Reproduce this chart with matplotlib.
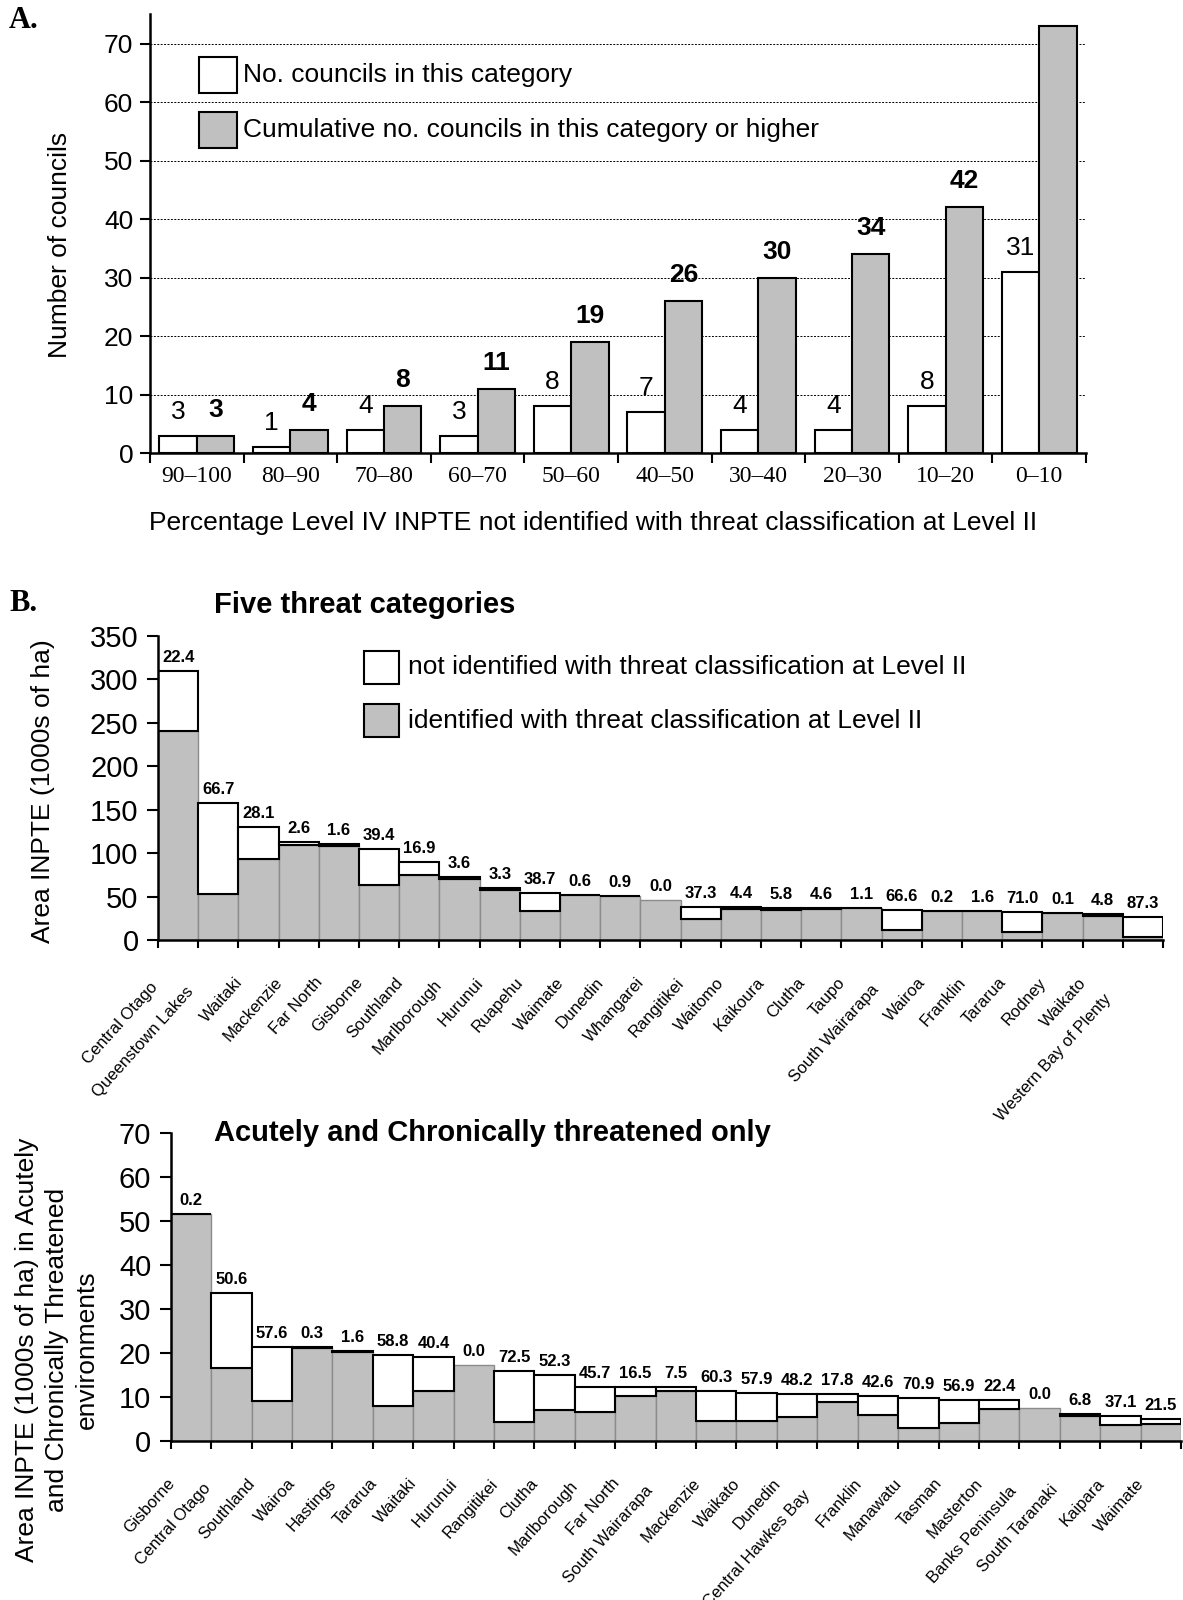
# Figura: conselhos x percentagem INPTE e areas por conselho (paineis A e B)
import numpy as np
import matplotlib
matplotlib.use("Agg")
import matplotlib.pyplot as plt
from matplotlib.patches import Rectangle
from matplotlib import font_manager

plt.rcParams['font.family'] = ['Liberation Sans', 'DejaVu Sans']

# ---- dados painel A
categorias = ['90–100', '80–90', '70–80', '60–70', '50–60',
              '40–50', '30–40', '20–30', '10–20', '0–10']
n_conselhos = [3, 1, 4, 3, 8, 7, 4, 4, 8, 31]
n_acumulado = [3, 4, 8, 11, 19, 26, 30, 34, 42, 73]

# ---- dados painel B (cinco categorias)
nomes_b1 = ['Central Otago', 'Queenstown Lakes', 'Waitaki', 'Mackenzie', 'Far North',
            'Gisborne', 'Southland', 'Marlborough', 'Hurunui', 'Ruapehu', 'Waimate',
            'Dunedin', 'Whangarei', 'Rangitikei', 'Waitomo', 'Kaikoura', 'Clutha',
            'Taupo', 'South Wairarapa', 'Wairoa', 'Franklin', 'Tararua', 'Rodney',
            'Waikato', 'Western Bay of Plenty']
total_b1 = [310, 158, 130.4, 112.8, 110, 105, 89.5, 73, 59.5, 54.5, 51.8, 51, 45.5,
            38, 37.6, 37.2, 37, 36.8, 34, 33.8, 33.6, 32, 31.6, 29.4, 27]
pct_b1 = [22.4, 66.7, 28.1, 2.6, 1.6, 39.4, 16.9, 3.6, 3.3, 38.7, 0.6, 0.9, 0.0,
          37.3, 4.4, 5.8, 4.6, 1.1, 66.6, 0.2, 1.6, 71.0, 0.1, 4.8, 87.3]

# ---- dados painel B (ameacados agudos e cronicos)
nomes_b2 = ['Gisborne', 'Central Otago', 'Southland', 'Wairoa', 'Hastings', 'Tararua',
            'Waitaki', 'Hurunui', 'Rangitikei', 'Clutha', 'Marlborough', 'Far North',
            'South Wairarapa', 'Mackenzie', 'Waikato', 'Dunedin', 'Central Hawkes Bay',
            'Franklin', 'Manawatu', 'Tasman', 'Masterton', 'Banks Peninsula',
            'South Taranaki', 'Kaipara', 'Waimate']
total_b2 = [51.7, 33.7, 21.3, 21.3, 20.5, 19.5, 19.2, 17.3, 16.0, 15.0, 12.3, 12.2,
            12.2, 11.4, 10.8, 10.7, 10.7, 10.3, 9.85, 9.4, 9.4, 7.6, 6.2, 5.7, 4.9]
pct_b2 = [0.2, 50.6, 57.6, 0.3, 1.6, 58.8, 40.4, 0.0, 72.5, 52.3, 45.7, 16.5, 7.5,
          60.3, 57.9, 48.2, 17.8, 42.6, 70.9, 56.9, 22.4, 0.0, 6.8, 37.1, 21.5]

W, H = 1183, 1600
CINZA = '#c0c0c0'

nomes_fontes = {f.name for f in font_manager.fontManager.ttflist}
if 'Liberation Sans Narrow' in nomes_fontes:
    fonte_nomes, tam_nomes = ['Liberation Sans Narrow'], 14.5
else:
    fonte_nomes, tam_nomes = ['Liberation Sans', 'DejaVu Sans'], 12


def fx(x):
    return x / W


def fy(y):
    return 1 - y / H


def eixo(esq, dir, topo, base):
    return fig.add_axes([fx(esq), fy(base), (dir - esq) / W, (base - topo) / H])


def caixa(x0, x1, y0, y1, cor):
    fig.add_artist(Rectangle((fx(x0), fy(y1)), (x1 - x0) / W, (y1 - y0) / H,
                             transform=fig.transFigure, facecolor=cor,
                             edgecolor='black', lw=1.5))


def painel_b(ax, nomes, total, pct, ymax, passo):
    total = np.array(total)
    pct = np.array(pct)
    ident = total * (1 - pct / 100)
    nao = total - ident
    x = np.arange(len(nomes))
    ax.bar(x, ident, width=1, align='edge', color=CINZA, edgecolor='#8c8c8c', lw=1)
    m = pct > 0
    ax.bar(x[m], nao[m], width=1, bottom=ident[m], align='edge', color='white',
           edgecolor='black', lw=1.5)
    for i in range(len(nomes)):
        ax.annotate(f'{pct[i]:.1f}', (i + 0.5, total[i]), xytext=(0, 6),
                    textcoords='offset pixels', ha='center', va='bottom',
                    fontsize=12, fontweight='bold')
    ang = np.deg2rad(48)
    for i, nome in enumerate(nomes):
        extra = max(0, len(nome) - 10) * 2.0
        ax.annotate(nome, (i + 0.5, 0), xytext=(-19 - extra * np.cos(ang), -40 - extra * np.sin(ang)),
                    textcoords='offset pixels', rotation=48, rotation_mode='anchor',
                    ha='right', va='center', fontsize=tam_nomes, family=fonte_nomes,
                    annotation_clip=False)
    ax.set_xlim(0, len(nomes))
    ax.set_ylim(0, ymax)
    ax.set_yticks(np.arange(0, ymax + 1, passo))
    ax.set_xticks(np.arange(0, len(nomes) + 1))
    ax.set_xticklabels([])
    ax.tick_params(axis='y', length=8, width=1.5, labelsize=21, pad=6)
    ax.tick_params(axis='x', length=6, width=1.5)
    for s in ['top', 'right']:
        ax.spines[s].set_visible(False)
    for s in ['left', 'bottom']:
        ax.spines[s].set_linewidth(1.8)


fig = plt.figure(figsize=(W / 100, H / 100), dpi=100)

# ================= Painel A
ax = eixo(150, 1086, 14.3, 453.2)
x = np.arange(len(categorias))
ax.bar(x + 0.1, n_conselhos, width=0.4, align='edge', color='white', edgecolor='black', lw=1.5)
ax.bar(x + 0.5, n_acumulado, width=0.4, align='edge', color=CINZA, edgecolor='black', lw=1.5)
for i, v in enumerate(n_conselhos):
    ax.annotate(str(v), (i + 0.3, v), xytext=(0, 12), textcoords='offset pixels',
                ha='center', va='bottom', fontsize=19)
for i, v in enumerate(n_acumulado[:-1]):
    ax.annotate(str(v), (i + 0.7, v), xytext=(0, 14), textcoords='offset pixels',
                ha='center', va='bottom', fontsize=19, fontweight='bold')
ax.set_xlim(0, 10)
ax.set_ylim(0, 75)
ax.set_yticks(np.arange(0, 71, 10))
ax.yaxis.grid(True, color='black', lw=0.7, linestyle=(0, (2, 1.5)))
ax.set_axisbelow(True)
ax.set_xticks(np.arange(0, 11))
ax.set_xticklabels([])
ax.set_xticks(x + 0.5, minor=True)
ax.set_xticklabels(categorias, minor=True, family=['Liberation Serif', 'DejaVu Serif'], fontsize=17)
ax.tick_params(axis='x', which='minor', length=0, pad=9)
ax.tick_params(axis='x', which='major', length=7, width=1.5)
ax.tick_params(axis='y', length=7, width=1.5, labelsize=19, pad=5)
for s in ['top', 'right']:
    ax.spines[s].set_visible(False)
for s in ['left', 'bottom']:
    ax.spines[s].set_linewidth(1.8)

fig.text(fx(60), fy(245), 'Number of councils', rotation=90, ha='center', va='center', fontsize=19)
fig.text(fx(593), fy(523), 'Percentage Level IV INPTE not identified with threat classification at Level II',
         ha='center', va='center', fontsize=19)
caixa(199, 237, 57, 93, 'white')
caixa(199, 237, 112, 148, CINZA)
fig.text(fx(243), fy(75), 'No. councils in this category', va='center', fontsize=19)
fig.text(fx(243), fy(130), 'Cumulative no. councils in this category or higher', va='center', fontsize=19)
fig.text(fx(9), fy(21), 'A.', family=['Liberation Serif', 'DejaVu Serif'], fontweight='bold',
         fontsize=22, va='center')

# ================= Painel B (topo)
ax1 = eixo(158, 1163, 636, 940)
painel_b(ax1, nomes_b1, total_b1, pct_b1, 350, 50)
fig.text(fx(9), fy(604), 'B.', family=['Liberation Serif', 'DejaVu Serif'], fontweight='bold',
         fontsize=22, va='center')
fig.text(fx(214), fy(605), 'Five threat categories', fontweight='bold', fontsize=21, va='center')
fig.text(fx(43), fy(791), 'Area INPTE (1000s of ha)', rotation=90, ha='center', va='center', fontsize=19)
caixa(364, 399, 651, 684, 'white')
caixa(364, 399, 704, 737, CINZA)
fig.text(fx(408), fy(667), 'not identified with threat classification at Level II', va='center', fontsize=19)
fig.text(fx(408), fy(721), 'identified with threat classification at Level II', va='center', fontsize=19)

# ================= Painel B (baixo)
ax2 = eixo(170.7, 1181, 1133, 1441)
painel_b(ax2, nomes_b2, total_b2, pct_b2, 70, 10)
fig.text(fx(214), fy(1133), 'Acutely and Chronically threatened only', fontweight='bold', fontsize=21,
         va='center')
fig.text(fx(57), fy(1350), 'Area INPTE (1000s of ha) in Acutely\nand Chronically Threatened\nenvironments',
         rotation=90, ha='center', va='center', multialignment='center', fontsize=19, linespacing=1.3)

fig.savefig('out.png', dpi=100)
